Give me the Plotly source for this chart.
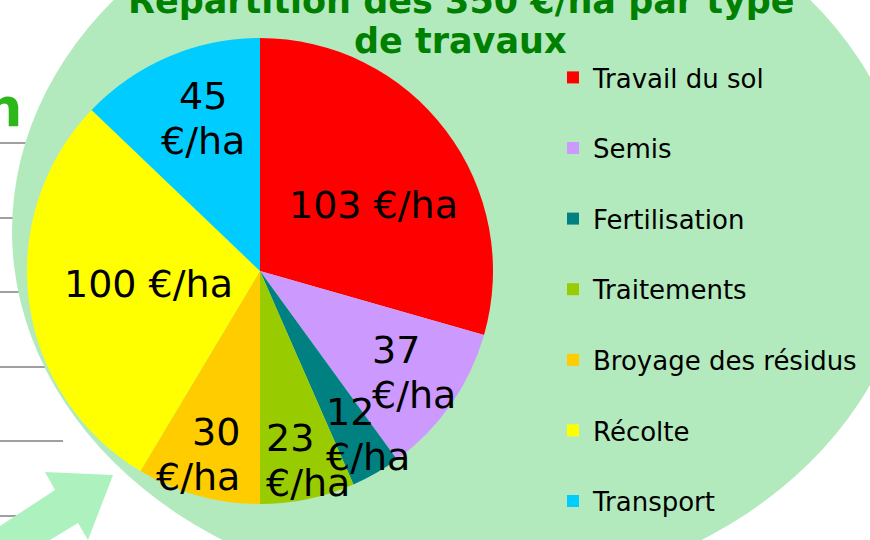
import plotly.graph_objects as go

categories = ["Travail du sol", "Semis", "Fertilisation", "Traitements",
              "Broyage des résidus", "Récolte", "Transport"]
values = [103, 37, 12, 23, 30, 100, 45]
unit = "€/ha"
colors = ["#FF0000", "#CC99FF", "#008080", "#99CC00", "#FFCC00", "#FFFF00", "#00CCFF"]
title_lines = ["Répartition des 350 €/ha par type", "de travaux"]

W, H = 870, 540
FONT = "DejaVu Sans"

def px(x):
    return x / W

def py(y):
    return 1 - y / H

# pie geometry (pixels)
cx, cy, r = 260, 271, 233

# label layout per slice: (x, y of first line, anchor, two_lines)
label_layout = [
    (373, 205, "center", False),
    (370, 350, "left", True),
    (324, 412, "left", True),
    (264, 438, "left", True),
    (242, 432, "right", True),
    (148, 284, "center", False),
    (203, 96, "center", True),
]
LINE_GAP = 45

# legend entries: an empty second line widens the row spacing (not needed on the last one)
legend_labels = [c + ("<br> " if i < len(categories) - 1 else "") for i, c in enumerate(categories)]

fig = go.Figure()
fig.add_trace(go.Pie(
    labels=legend_labels,
    values=values,
    sort=False,
    direction="clockwise",
    rotation=0,
    marker=dict(colors=colors, line=dict(width=0)),
    textinfo="none",
    domain=dict(x=[px(cx - r), px(cx + r)], y=[py(cy + r), py(cy - r)]),
    hovertemplate="%{label}<br>%{value} " + unit + "<extra></extra>",
))

shapes = []
# background table lines on the left
for yl, xe in [(143, 150), (218, 150), (292, 150), (367, 150), (441, 63), (516, 40)]:
    shapes.append(dict(type="line", xref="paper", yref="paper", layer="below",
                       x0=0, x1=px(xe), y0=py(yl), y1=py(yl),
                       line=dict(color="#404040", width=1)))
# light green ellipse background
shapes.append(dict(type="circle", xref="paper", yref="paper", layer="below",
                   x0=px(12), x1=px(912), y0=py(596), y1=py(-134),
                   fillcolor="#B3EABD", line=dict(width=0)))
# arrow
arrow_pts = [(0, 526), (55, 490), (45, 472), (113, 475), (88, 540), (78, 523), (50, 540), (0, 540)]
path = "M " + " L ".join(f"{px(x):.5f},{py(y):.5f}" for x, y in arrow_pts) + " Z"
shapes.append(dict(type="path", xref="paper", yref="paper", layer="above",
                   path=path, fillcolor="#ADF2BE", line=dict(width=0)))

label_font = dict(family=FONT, size=38, color="black")
annotations = []
for v, (lx, ly, anc, two) in zip(values, label_layout):
    lines = [f"{v}", unit] if two else [f"{v} {unit}"]
    for i, t in enumerate(lines):
        annotations.append(dict(text=t, x=px(lx), y=py(ly + i * LINE_GAP),
                                xref="paper", yref="paper", xanchor=anc,
                                yanchor="middle", showarrow=False, font=label_font))

annotations += [
    dict(text=title_lines[0], x=px(462), y=py(1), xref="paper", yref="paper",
         xanchor="center", yanchor="middle", showarrow=False,
         font=dict(family=FONT, size=35, color="#008000", weight="bold")),
    dict(text=title_lines[1], x=px(460), y=py(41), xref="paper", yref="paper",
         xanchor="center", yanchor="middle", showarrow=False,
         font=dict(family=FONT, size=35, color="#008000", weight="bold")),
    dict(text="n", x=px(24), y=py(108), xref="paper", yref="paper",
         xanchor="right", yanchor="middle", showarrow=False,
         font=dict(family=FONT, size=54, color="#2DB81A", weight="bold")),
]

fig.update_layout(
    width=W, height=H,
    margin=dict(l=0, r=0, t=0, b=0),
    paper_bgcolor="white",
    plot_bgcolor="white",
    shapes=shapes,
    annotations=annotations,
    showlegend=True,
    legend=dict(x=px(553), y=py(54), xanchor="left", yanchor="top",
                valign="top", bgcolor="rgba(0,0,0,0)",
                font=dict(family=FONT, size=26, color="black")),
)

fig.write_html("out.html",
               config={"displayModeBar": False},
               post_script="document.body.style.margin='0';document.body.style.overflow='hidden';")
